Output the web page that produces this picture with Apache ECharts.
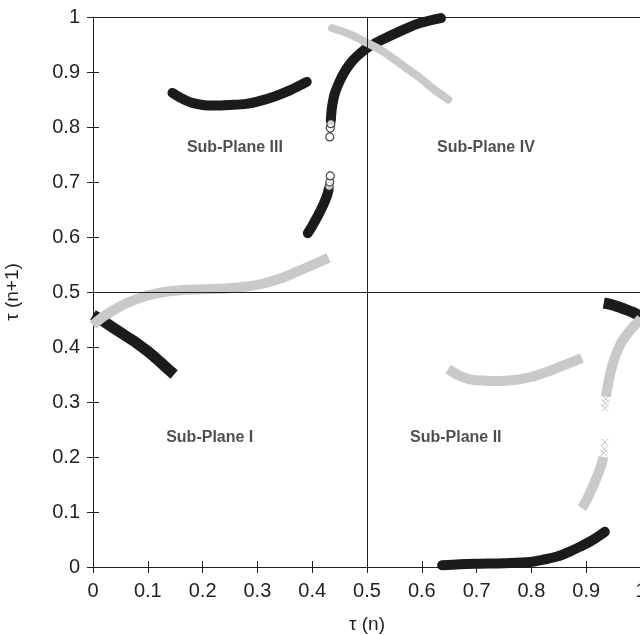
<!DOCTYPE html>
<html>
<head>
<meta charset="utf-8">
<script src="https://cdn.jsdelivr.net/npm/echarts@6/dist/echarts.min.js"></script>
<style>html,body{margin:0;padding:0;background:#fff}#c{width:640px;height:635px}</style>
</head>
<body>
<div id="c"></div>
<script>
// ---- data ----
const xTicks = [0,0.1,0.2,0.3,0.4,0.5,0.6,0.7,0.8,0.9,1];
const yTicks = [0,0.1,0.2,0.3,0.4,0.5,0.6,0.7,0.8,0.9,1];

// black, circle markers
const blackCircleTop = [[0.145,0.862],[0.16,0.853],[0.18,0.844],[0.2,0.840],[0.22,0.839],[0.25,0.840],[0.28,0.842],[0.3,0.846],[0.33,0.855],[0.36,0.867],[0.39,0.882]];
const blackCircleRiseLow = [[0.392,0.607],[0.40,0.620],[0.41,0.638],[0.42,0.658],[0.427,0.675],[0.430,0.686]];
const blackCircleSparse = [[0.431,0.692],[0.432,0.700],[0.433,0.711],[0.432,0.782],[0.433,0.798],[0.434,0.806]];
const blackCircleRiseHigh = [[0.434,0.812],[0.436,0.835],[0.441,0.860],[0.451,0.885],[0.462,0.905],[0.475,0.922],[0.49,0.936],[0.502,0.945],[0.524,0.957],[0.56,0.974],[0.597,0.989],[0.635,0.998]];
const blackCircleBottom = [[0.637,0.003],[0.67,0.005],[0.706,0.006],[0.75,0.007],[0.797,0.009],[0.82,0.013],[0.847,0.019],[0.87,0.028],[0.889,0.037],[0.91,0.048],[0.934,0.064]];

// grey, circle markers
const greyCircleIV = [[0.436,0.980],[0.47,0.968],[0.5,0.953],[0.525,0.940],[0.547,0.925],[0.575,0.905],[0.597,0.889],[0.62,0.870],[0.648,0.850]];

// black, cross markers
const blackCrossI = [[0.0,0.458],[0.02,0.446],[0.04,0.433],[0.06,0.420],[0.08,0.407],[0.10,0.392],[0.12,0.375],[0.14,0.357],[0.148,0.350]];
const blackCrossEdge = [[0.932,0.480],[0.95,0.476],[0.967,0.470],[0.985,0.463],[1.0,0.455]];

// grey, cross markers
const greyCrossLow = [[0.0,0.44],[0.02,0.456],[0.05,0.474],[0.08,0.487],[0.1,0.494],[0.13,0.500],[0.17,0.504],[0.2,0.505],[0.25,0.507],[0.28,0.510],[0.31,0.515],[0.34,0.524],[0.37,0.536],[0.40,0.549],[0.43,0.562]];
const greyCrossII = [[0.648,0.360],[0.668,0.348],[0.688,0.341],[0.71,0.339],[0.737,0.338],[0.77,0.340],[0.797,0.345],[0.82,0.352],[0.847,0.362],[0.87,0.371],[0.892,0.380]];
const greyCrossRiseLow = [[0.892,0.107],[0.90,0.120],[0.912,0.146],[0.92,0.165],[0.925,0.178],[0.929,0.190],[0.931,0.200]];
const greyCrossSparse = [[0.932,0.207],[0.933,0.214],[0.934,0.227],[0.934,0.289],[0.935,0.298],[0.936,0.306]];
const greyCrossRiseHigh = [[0.936,0.310],[0.938,0.322],[0.943,0.348],[0.949,0.371],[0.957,0.393],[0.967,0.413],[0.98,0.430],[0.993,0.444],[1.0,0.452]];

// quadrant labels
const planeLabels = [
  {name:'Sub-Plane III', value:[0.259,0.762]},
  {name:'Sub-Plane IV', value:[0.717,0.762]},
  {name:'Sub-Plane I', value:[0.213,0.236]},
  {name:'Sub-Plane II', value:[0.662,0.236]}
];

// ---- styling ----
const BLACK = '#1c1a1b';
const GREY = '#c9c9c9';
const FONT = "'Liberation Sans', Arial, sans-serif";
const TXT = '#231f20';
const crossPath = 'path://M0,0L10,10M10,0L0,10';

function band(data, color, width, cap, z){
  return {type:'line', data:data, smooth:0.35, showSymbol:false, symbol:'none', clip:false,
    lineStyle:{color:color, width:width, cap:cap, join:'round'}, z:z, silent:true, animation:false};
}
function sparse(data, symbol, size, color, z){
  return {type:'scatter', data:data, symbol:symbol, symbolSize:size, clip:false,
    itemStyle: symbol==='circle' ? {color:'#fff', borderColor:color, borderWidth:1.2}
                                 : {color:'none', borderColor:color, borderWidth:1},
    z:z, silent:true, animation:false};
}

const chart = echarts.init(document.getElementById('c'), null, {renderer:'canvas'});
const axisLabel = {fontFamily:FONT, fontSize:20, color:TXT};
chart.setOption({
  animation:false,
  grid:{left:93, top:17, width:548, height:550, containLabel:false, outerBoundsMode:'none'},
  xAxis:[
    {type:'value', min:0, max:1, interval:0.1, position:'bottom',
     axisLine:{show:true, onZero:false, lineStyle:{color:TXT, width:1}},
     axisTick:{show:true, length:6, lineStyle:{color:TXT}},
     axisLabel:Object.assign({margin:14, hideOverlap:false, formatter:v=>String(xTicks[Math.round(v*10)])}, axisLabel),
     splitLine:{show:false},
     name:'τ (n)', nameLocation:'middle', nameGap:48,
     nameTextStyle:{fontFamily:FONT, fontSize:19, color:TXT}},
    {type:'value', min:0, max:1, interval:0.1, position:'bottom', offset:0,
     axisLine:{show:false}, axisTick:{show:true, inside:true, length:6, lineStyle:{color:TXT}},
     axisLabel:{show:false}, splitLine:{show:false}},
    {type:'value', min:0, max:1, position:'top',
     axisLine:{show:true, onZero:false, lineStyle:{color:TXT, width:1}},
     axisTick:{show:false}, axisLabel:{show:false}, splitLine:{show:false}}
  ],
  yAxis:[
    {type:'value', min:0, max:1, interval:0.1, position:'left',
     axisLine:{show:true, onZero:false, lineStyle:{color:TXT, width:1}},
     axisTick:{show:true, length:6, lineStyle:{color:TXT}},
     axisLabel:Object.assign({margin:13, formatter:v=>String(yTicks[Math.round(v*10)])}, axisLabel),
     splitLine:{show:false},
     name:'τ (n+1)', nameLocation:'middle', nameGap:71, nameRotate:90,
     nameTextStyle:{fontFamily:FONT, fontSize:19, color:TXT}},
    {type:'value', min:0, max:1, interval:0.1, position:'left', offset:0,
     axisLine:{show:false}, axisTick:{show:true, inside:true, length:6, lineStyle:{color:TXT}},
     axisLabel:{show:false}, splitLine:{show:false}}
  ],
  series:[
    {type:'line', data:[], markLine:{silent:true, symbol:['none','none'], label:{show:false},
      lineStyle:{color:TXT, width:1, type:'solid'}, animation:false,
      data:[{xAxis:0.5},{yAxis:0.5}]}, z:1},
    band(blackCircleTop, BLACK, 10, 'round', 3),
    band(blackCircleRiseLow, BLACK, 10, 'round', 3),
    band(blackCircleRiseHigh, BLACK, 10, 'round', 3),
    band(blackCircleBottom, BLACK, 10, 'round', 3),
    sparse(blackCircleSparse, 'circle', 8, BLACK, 3),
    band(blackCrossI, BLACK, 11, 'butt', 3),
    band(blackCrossEdge, BLACK, 11, 'butt', 3),
    band(greyCircleIV, GREY, 8, 'round', 4),
    band(greyCrossLow, GREY, 10, 'butt', 4),
    band(greyCrossII, GREY, 10, 'butt', 4),
    band(greyCrossRiseLow, GREY, 10, 'butt', 4),
    band(greyCrossRiseHigh, GREY, 10, 'butt', 4),
    sparse(greyCrossSparse, crossPath, 7, '#b5b5b5', 4),
    {type:'scatter', data:planeLabels, symbolSize:0, silent:true, z:6,
     label:{show:true, position:'inside', formatter:p=>p.name,
       fontFamily:FONT, fontSize:16, fontWeight:'bold', color:TXT}}
  ]
});
</script>
</body>
</html>
